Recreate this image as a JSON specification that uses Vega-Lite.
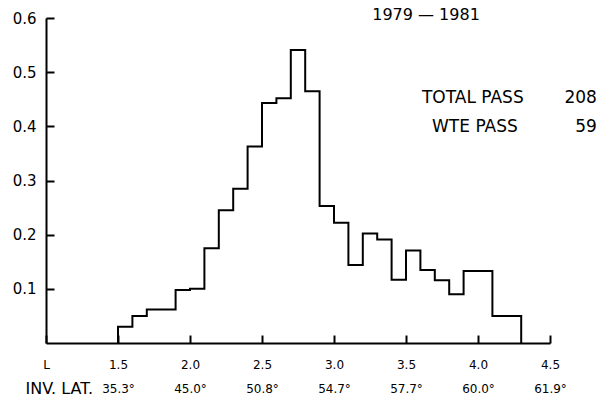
{
  "$schema": "https://vega.github.io/schema/vega-lite/v6.json",
  "width": 504,
  "height": 325,
  "autosize": "none",
  "padding": {"left": 46, "top": 18, "right": 49, "bottom": 55},
  "background": "white",
  "config": {
    "view": {"stroke": null},
    "font": "DejaVu Sans"
  },
  "layer": [
    {
      "data": {
        "values": [
          {"L": 1.5, "fraction": 0},
          {"L": 1.5, "fraction": 0.03},
          {"L": 1.6, "fraction": 0.05},
          {"L": 1.7, "fraction": 0.062},
          {"L": 1.8, "fraction": 0.062},
          {"L": 1.9, "fraction": 0.098},
          {"L": 2.0, "fraction": 0.1},
          {"L": 2.1, "fraction": 0.175},
          {"L": 2.2, "fraction": 0.245},
          {"L": 2.3, "fraction": 0.285},
          {"L": 2.4, "fraction": 0.363},
          {"L": 2.5, "fraction": 0.443},
          {"L": 2.6, "fraction": 0.452},
          {"L": 2.7, "fraction": 0.541},
          {"L": 2.8, "fraction": 0.465},
          {"L": 2.9, "fraction": 0.253},
          {"L": 3.0, "fraction": 0.222},
          {"L": 3.1, "fraction": 0.144},
          {"L": 3.2, "fraction": 0.202},
          {"L": 3.3, "fraction": 0.191},
          {"L": 3.4, "fraction": 0.117},
          {"L": 3.5, "fraction": 0.171},
          {"L": 3.6, "fraction": 0.135},
          {"L": 3.7, "fraction": 0.116},
          {"L": 3.8, "fraction": 0.09},
          {"L": 3.9, "fraction": 0.133},
          {"L": 4.0, "fraction": 0.133},
          {"L": 4.1, "fraction": 0.05},
          {"L": 4.2, "fraction": 0.05},
          {"L": 4.3, "fraction": 0}
        ]
      },
      "mark": {"type": "line", "interpolate": "step-after", "color": "black", "strokeWidth": 2, "clip": false},
      "encoding": {
        "x": {
          "field": "L", "type": "quantitative",
          "scale": {"domain": [1, 4.5], "nice": false, "zero": false},
          "axis": {
            "values": [1, 1.5, 2, 2.5, 3, 3.5, 4, 4.5],
            "grid": false,
            "domainColor": "black", "domainWidth": 2,
            "tickColor": "black", "tickWidth": 2, "tickSize": -8,
            "labelExpr": "datum.value == 1 ? ['L', ''] : [format(datum.value, '.1f'), datum.value == 1.5 ? '35.3°' : datum.value == 2 ? '45.0°' : datum.value == 2.5 ? '50.8°' : datum.value == 3 ? '54.7°' : datum.value == 3.5 ? '57.7°' : datum.value == 4 ? '60.0°' : '61.9°']",
            "labelFontSize": 12,
            "labelColor": "black",
            "labelLineHeight": 24,
            "labelBaseline": "top",
            "labelPadding": 24,
            "labelDx": 5,
            "labelFlush": false,
            "labelOverlap": false,
            "title": "INV. LAT.",
            "titleFontSize": 16,
            "titleFontWeight": "normal",
            "titleColor": "black",
            "titleAnchor": "start",
            "titleAlign": "left",
            "titleBaseline": "middle",
            "titleX": -21,
            "titleY": 45
          }
        },
        "y": {
          "field": "fraction", "type": "quantitative",
          "scale": {"domain": [0, 0.6], "nice": false},
          "axis": {
            "values": [0.1, 0.2, 0.3, 0.4, 0.5, 0.6],
            "grid": false,
            "format": ".1f",
            "domainColor": "black", "domainWidth": 2,
            "tickColor": "black", "tickWidth": 2, "tickSize": -8,
            "labelFontSize": 15,
            "labelColor": "black",
            "labelPadding": 18,
            "title": null
          }
        }
      }
    },
    {
      "data": {"values": [{"L": 3.639, "fraction": 0.6055, "label": "1979 — 1981"}]},
      "mark": {"type": "text", "fontSize": 16, "align": "center", "baseline": "middle", "color": "black", "font": "DejaVu Sans"},
      "encoding": {
        "x": {"field": "L", "type": "quantitative"},
        "y": {"field": "fraction", "type": "quantitative"},
        "text": {"field": "label"}
      }
    },
    {
      "data": {"values": [
        {"L": 3.611, "fraction": 0.452, "label": "TOTAL PASS"},
        {"L": 3.681, "fraction": 0.399, "label": "WTE PASS"}
      ]},
      "mark": {"type": "text", "fontSize": 17, "align": "left", "baseline": "middle", "color": "black", "font": "DejaVu Sans"},
      "encoding": {
        "x": {"field": "L", "type": "quantitative"},
        "y": {"field": "fraction", "type": "quantitative"},
        "text": {"field": "label"}
      }
    },
    {
      "data": {"values": [
        {"L": 4.826, "fraction": 0.452, "label": "208"},
        {"L": 4.826, "fraction": 0.399, "label": "59"}
      ]},
      "mark": {"type": "text", "fontSize": 17, "align": "right", "baseline": "middle", "color": "black", "font": "DejaVu Sans"},
      "encoding": {
        "x": {"field": "L", "type": "quantitative"},
        "y": {"field": "fraction", "type": "quantitative"},
        "text": {"field": "label"}
      }
    }
  ]
}
